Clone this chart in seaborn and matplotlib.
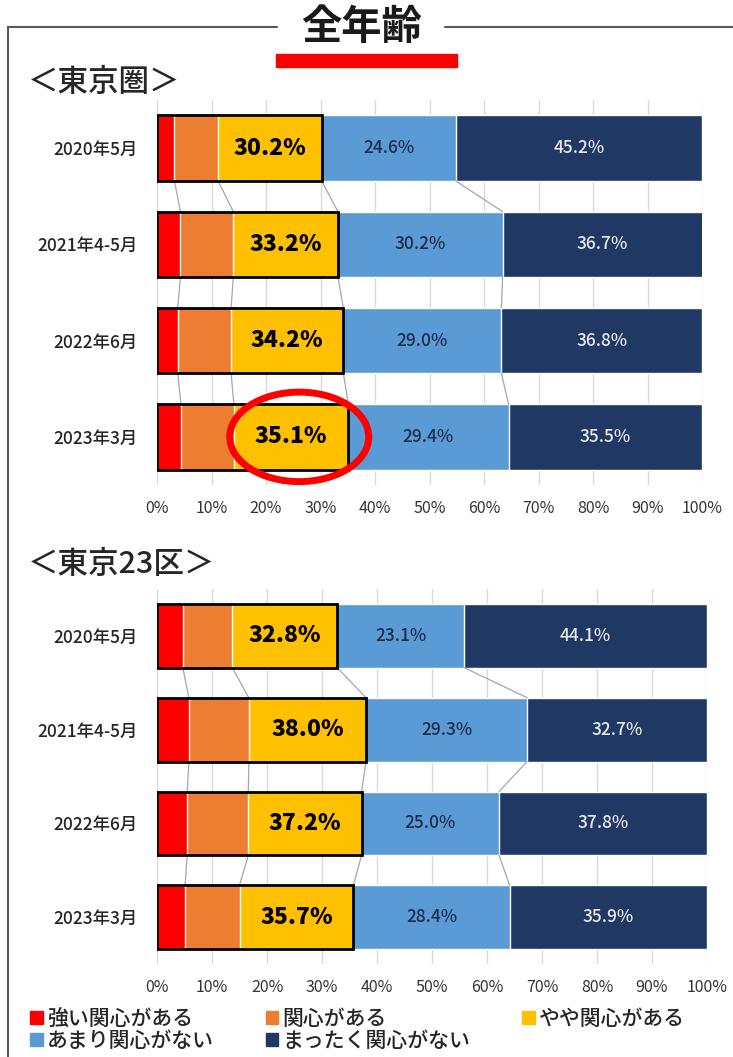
import numpy as np
import pandas as pd
import seaborn as sns
import matplotlib.pyplot as plt
from matplotlib.patches import Patch, Rectangle, Ellipse
from matplotlib.lines import Line2D

sns.set_style('white')
plt.rcParams['font.family'] = ['Noto Sans CJK JP', 'DejaVu Sans']

periods = ['2020年5月', '2021年4-5月', '2022年6月', '2023年3月']
categories = ['強い関心がある', '関心がある', 'やや関心がある', 'あまり関心がない', 'まったく関心がない']
colors = ['#FF0000', '#ED7D31', '#FFC000', '#5B9BD5', '#203864']

# 東京圏
metro_strong = [3.2, 4.3, 3.8, 4.4]
metro_some = [8.0, 9.7, 9.8, 9.7]
metro_bit = [19.0, 19.2, 20.6, 21.0]
metro_little = [24.6, 30.2, 29.0, 29.4]
metro_none = [45.2, 36.7, 36.8, 35.5]

# 東京23区
ward_strong = [4.7, 5.8, 5.5, 5.1]
ward_some = [9.0, 10.9, 11.1, 9.9]
ward_bit = [19.1, 21.3, 20.6, 20.7]
ward_little = [23.1, 29.3, 25.0, 28.4]
ward_none = [44.1, 32.7, 37.8, 35.9]

BAR_W = 0.68


def make_df(a, b, c, d, e):
    df = pd.DataFrame(dict(zip(categories, [a, b, c, d, e])))
    df['period'] = periods
    return df


def draw(ax, df):
    cum = df[categories].cumsum(axis=1)
    # stacked bars: biggest cumulative first, then overlay
    for cat, col in reversed(list(zip(categories, colors))):
        sns.barplot(x=cum[cat], y=df['period'], color=col, orient='h', width=BAR_W,
                    saturation=1, errorbar=None, ax=ax)
    # black outline around the "interested" part
    for i in range(len(df)):
        ax.add_patch(Rectangle((0, i - BAR_W / 2), cum.iloc[i][categories[2]], BAR_W,
                               fill=False, edgecolor='black', lw=2, zorder=3))
    # series lines between bars
    for i in range(len(df) - 1):
        for cat in categories[:4]:
            ax.plot([cum.iloc[i][cat], cum.iloc[i + 1][cat]],
                    [i + BAR_W / 2, i + 1 - BAR_W / 2], color='#A6A6A6', lw=0.9, zorder=1)
    for i in range(len(df)):
        x_y = (cum.iloc[i][categories[1]] + cum.iloc[i][categories[2]]) / 2
        ax.text(x_y, i, f'{cum.iloc[i][categories[2]]:.1f}%', ha='center', va='center',
                fontsize=16.5, fontweight='heavy', color='black', zorder=4)
        x_lb = (cum.iloc[i][categories[2]] + cum.iloc[i][categories[3]]) / 2
        ax.text(x_lb, i, f'{df.iloc[i][categories[3]]:.1f}%', ha='center', va='center',
                fontsize=12.5, fontweight='medium', color='#1F2D4D', zorder=4)
        x_nv = (cum.iloc[i][categories[3]] + 100) / 2
        ax.text(x_nv, i, f'{df.iloc[i][categories[4]]:.1f}%', ha='center', va='center',
                fontsize=12.5, fontweight='medium', color='#E8E8E8', zorder=4)
    ax.set_xlim(0, 100)
    ax.set_ylim(len(df) - 0.5, -0.5)
    ax.set_xticks(np.arange(0, 101, 10))
    ax.set_xticklabels([f'{t}%' for t in range(0, 101, 10)])
    ax.set_xlabel('')
    ax.set_ylabel('')
    ax.set_axisbelow(True)
    ax.xaxis.grid(True, color='#D9D9D9', lw=1)
    sns.despine(ax=ax, left=True, bottom=True)
    ax.tick_params(axis='x', length=4, color='#D9D9D9', labelsize=11.5, pad=7, labelcolor='#333333')
    ax.tick_params(axis='y', length=0, labelsize=12.5, pad=14, labelcolor='#262626')
    for lab in ax.get_yticklabels():
        lab.set_fontweight('medium')
    return cum


W, H = 733, 1057
fig = plt.figure(figsize=(W / 100, H / 100), dpi=100)

ax1 = fig.add_axes([157 / W, 1 - 485 / H, 545 / W, 385 / H])
ax2 = fig.add_axes([157 / W, 1 - 964 / H, 550 / W, 375 / H])

metro = make_df(metro_strong, metro_some, metro_bit, metro_little, metro_none)
ward = make_df(ward_strong, ward_some, ward_bit, ward_little, ward_none)
cum1 = draw(ax1, metro)
draw(ax2, ward)

# red circle on the latest 東京圏 value
last = len(metro) - 1
cx = (cum1.iloc[last][categories[1]] + cum1.iloc[last][categories[2]]) / 2 + 1.5
ax1.add_patch(Ellipse((cx, last), 25.5, 0.93, fill=False, edgecolor='#FF0000', lw=5,
                      zorder=5, clip_on=False))

# frame and title
fig.add_artist(Line2D([8 / W, 8 / W], [0, 1 - 27 / H], color='#595959', lw=1.5))
fig.add_artist(Line2D([8 / W, 277 / W], [1 - 27 / H, 1 - 27 / H], color='#595959', lw=1.5))
fig.add_artist(Line2D([445 / W, 1], [1 - 27 / H, 1 - 27 / H], color='#595959', lw=1.5))
fig.text(362 / W, 1 - 27 / H, '全年齢', fontsize=29, fontweight='bold', ha='center', va='center',
         color='#1A1A1A')
fig.add_artist(Rectangle((276 / W, 1 - 67 / H), 181 / W, 13 / H, color='#FF0000',
                         transform=fig.transFigure))

fig.text(28 / W, 1 - 83 / H, '＜東京圏＞', fontsize=22, fontweight='medium', ha='left',
         va='center', color='#262626')
fig.text(28 / W, 1 - 565 / H, '＜東京23区＞', fontsize=22, fontweight='medium', ha='left',
         va='center', color='#262626')

handles = [Patch(color=c) for c in colors]
order = [0, 3, 1, 4, 2]
leg = fig.legend([handles[i] for i in order], [categories[i] for i in order], ncol=3,
                 loc='upper left', bbox_to_anchor=(30 / W, 1 - 1008 / H), frameon=False,
                 fontsize=15, handlelength=0.6, handleheight=0.6, handletextpad=0.2,
                 labelspacing=0.0, columnspacing=2.5, borderpad=0, borderaxespad=0)
for t in leg.get_texts():
    t.set_color('#262626')
    t.set_fontweight('medium')

fig.savefig('out.png', dpi=100)
